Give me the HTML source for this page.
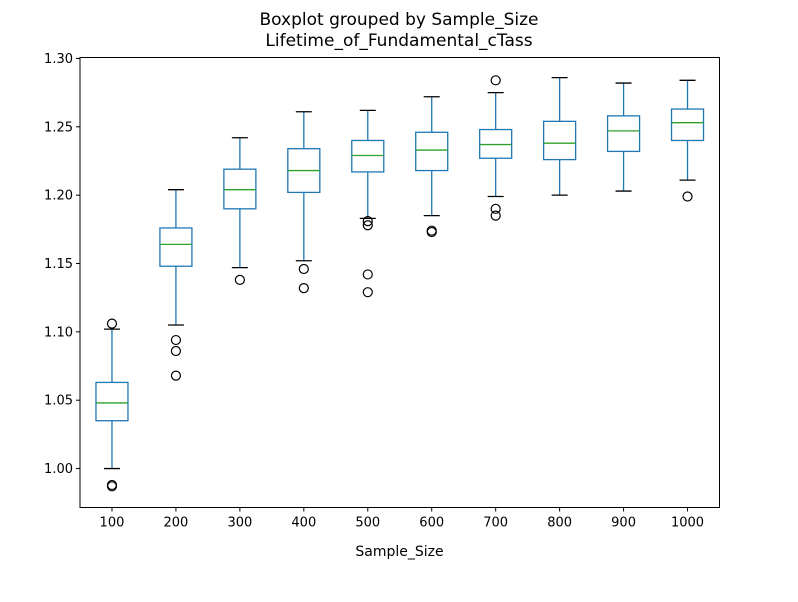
<!DOCTYPE html>
<html><head><meta charset="utf-8"><style>
body{margin:0;background:#fff;font-family:"Liberation Sans","DejaVu Sans",sans-serif;}
</style></head><body>
<svg id="chart" width="798" height="597" xmlns="http://www.w3.org/2000/svg" font-family="DejaVu Sans, Liberation Sans, sans-serif">
<rect width="798" height="597" fill="#fff"/>
<text x="399" y="25" text-anchor="middle" font-size="17">Boxplot grouped by Sample_Size</text>
<text x="399" y="46" text-anchor="middle" font-size="17">Lifetime_of_Fundamental_cTass</text>
<g id="marks"></g>
<rect x="80" y="57.5" width="639.5" height="450" fill="none" stroke="#000" stroke-width="1"/>
<g id="axes"></g>
<text x="399.5" y="556" text-anchor="middle" font-size="14">Sample_Size</text>
</svg>
<script>
const categories=["100","200","300","400","500","600","700","800","900","1000"];
const whiskLo=[1.000,1.105,1.147,1.152,1.183,1.185,1.199,1.200,1.203,1.211];
const q1=[1.035,1.148,1.190,1.202,1.217,1.218,1.227,1.226,1.232,1.240];
const medians=[1.048,1.164,1.204,1.218,1.229,1.233,1.237,1.238,1.247,1.253];
const q3=[1.063,1.176,1.219,1.234,1.240,1.246,1.248,1.254,1.258,1.263];
const whiskHi=[1.102,1.204,1.242,1.261,1.262,1.272,1.275,1.286,1.282,1.284];
const outliers=[[1.106,0.988,0.987],[1.094,1.086,1.068],[1.138],[1.146,1.132],[1.181,1.178,1.142,1.129],[1.174,1.173],[1.284,1.190,1.185],[],[],[1.199]];
const yTicks=[1.00,1.05,1.10,1.15,1.20,1.25,1.30];
const ns="http://www.w3.org/2000/svg";
const L=80,R=719.5,T=57.5,B=507.5,yMin=0.9715,yMax=1.3007;
const x=i=>L+(i+0.5)*(R-L)/categories.length;
const y=v=>B-(v-yMin)/(yMax-yMin)*(B-T);
function mk(tag,attrs,parent){const e=document.createElementNS(ns,tag);for(const k in attrs)e.setAttribute(k,attrs[k]);parent.appendChild(e);return e;}
const marks=document.getElementById('marks'),axes=document.getElementById('axes');
const hw=16,cw=8;
categories.forEach((c,i)=>{
  const g=mk('g',{},marks);
  
  
  const cx=x(i);
  mk('line',{x1:cx,x2:cx,y1:y(q3[i]),y2:y(whiskHi[i]),stroke:'#1f77b4','stroke-width':1.3},g);
  mk('line',{x1:cx,x2:cx,y1:y(q1[i]),y2:y(whiskLo[i]),stroke:'#1f77b4','stroke-width':1.3},g);
  mk('line',{x1:cx-cw,x2:cx+cw,y1:y(whiskHi[i]),y2:y(whiskHi[i]),stroke:'#000','stroke-width':1.3},g);
  mk('line',{x1:cx-cw,x2:cx+cw,y1:y(whiskLo[i]),y2:y(whiskLo[i]),stroke:'#000','stroke-width':1.3},g);
  mk('rect',{x:cx-hw,y:y(q3[i]),width:2*hw,height:y(q1[i])-y(q3[i]),fill:'none',stroke:'#1f77b4','stroke-width':1.3},g);
  mk('line',{x1:cx-hw,x2:cx+hw,y1:y(medians[i]),y2:y(medians[i]),stroke:'#2ca02c','stroke-width':1.3},g);
  outliers[i].forEach(v=>{
    const o=mk('circle',{cx:cx,cy:y(v),r:4.5,fill:'none',stroke:'#000','stroke-width':1.2},g);
    
    
  });
  mk('line',{x1:cx,x2:cx,y1:B,y2:B+4,stroke:'#000'},axes);
  const t=mk('text',{x:cx,y:B+19,'text-anchor':'middle','font-size':13},axes);
  t.textContent=c;
  
  
});
yTicks.forEach(v=>{
  mk('line',{x1:L-4,x2:L,y1:y(v),y2:y(v),stroke:'#000'},axes);
  const t=mk('text',{x:L-7,y:y(v)+4.5,'text-anchor':'end','font-size':13},axes);
  t.textContent=v.toFixed(2);
  
  
});
</script>
</body></html>
